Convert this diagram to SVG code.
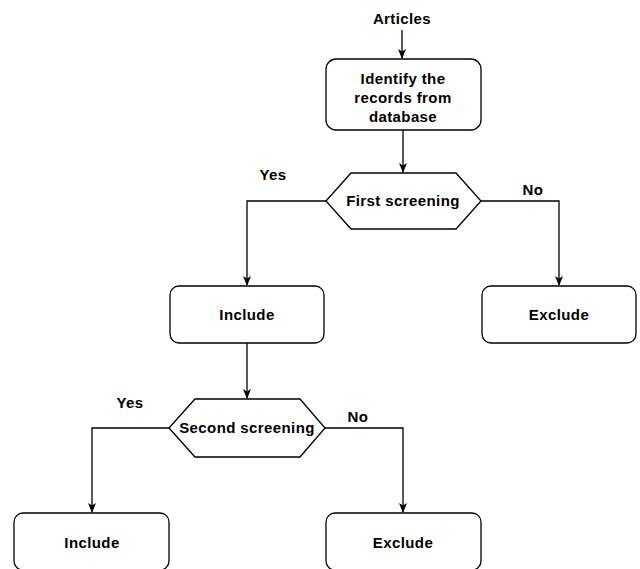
<svg xmlns="http://www.w3.org/2000/svg" width="640" height="569" viewBox="0 0 640 569">
<style>
.box{fill:#fff;stroke:#000;stroke-width:1.3}
.t{font-family:"Comic Sans MS","Liberation Sans",sans-serif;font-weight:bold;font-size:15px;letter-spacing:0.4px;fill:#000;text-anchor:middle}
.c{fill:none;stroke:#000;stroke-width:1.3}
</style>
<defs>
<marker id="a" viewBox="0 0 10 10" refX="9" refY="5" markerWidth="10" markerHeight="10" markerUnits="userSpaceOnUse" orient="auto">
<path d="M0,1 L10,5 L0,9 L2.5,5 z" fill="#000"/>
</marker>
</defs>
<rect width="640" height="569" fill="#fff"/>
<g id="connectors">
<line class="c" x1="402" y1="30" x2="402" y2="58" marker-end="url(#a)"/>
<line class="c" x1="403" y1="130" x2="403" y2="172" marker-end="url(#a)"/>
<polyline class="c" points="326,201 247,201 247,285" marker-end="url(#a)"/>
<polyline class="c" points="481,201 559,201 559,285" marker-end="url(#a)"/>
<line class="c" x1="247" y1="343" x2="247" y2="398" marker-end="url(#a)"/>
<polyline class="c" points="169,428 92,428 92,512" marker-end="url(#a)"/>
<polyline class="c" points="325,428 403,428 403,512" marker-end="url(#a)"/>
</g>
<g id="articles"><text class="t" x="402" y="24">Articles</text></g>
<g id="identify">
<rect class="box" x="326" y="59" width="155" height="71" rx="10"/>
<text class="t" x="403" y="84">Identify the</text>
<text class="t" x="403" y="103">records from</text>
<text class="t" x="403" y="122">database</text>
</g>
<g id="first-screening">
<polygon class="box" points="326,201 351,173 456,173 481,201 456,229 351,229"/>
<text class="t" x="403" y="206">First screening</text>
</g>
<g id="yes1"><text class="t" x="273" y="180">Yes</text></g>
<g id="no1"><text class="t" x="533" y="195">No</text></g>
<g id="include1">
<rect class="box" x="170" y="286" width="154" height="57" rx="9"/>
<text class="t" x="247" y="320">Include</text>
</g>
<g id="exclude1">
<rect class="box" x="482" y="286" width="154" height="57" rx="9"/>
<text class="t" x="559" y="320">Exclude</text>
</g>
<g id="second-screening">
<polygon class="box" points="169,428 195,399 300,399 325,428 300,457 195,457"/>
<text class="t" x="247" y="433">Second screening</text>
</g>
<g id="yes2"><text class="t" x="130" y="408">Yes</text></g>
<g id="no2"><text class="t" x="358" y="422">No</text></g>
<g id="include2">
<rect class="box" x="14" y="513" width="155" height="57" rx="9"/>
<text class="t" x="92" y="548">Include</text>
</g>
<g id="exclude2">
<rect class="box" x="326" y="513" width="155" height="57" rx="9"/>
<text class="t" x="403" y="548">Exclude</text>
</g>
</svg>
